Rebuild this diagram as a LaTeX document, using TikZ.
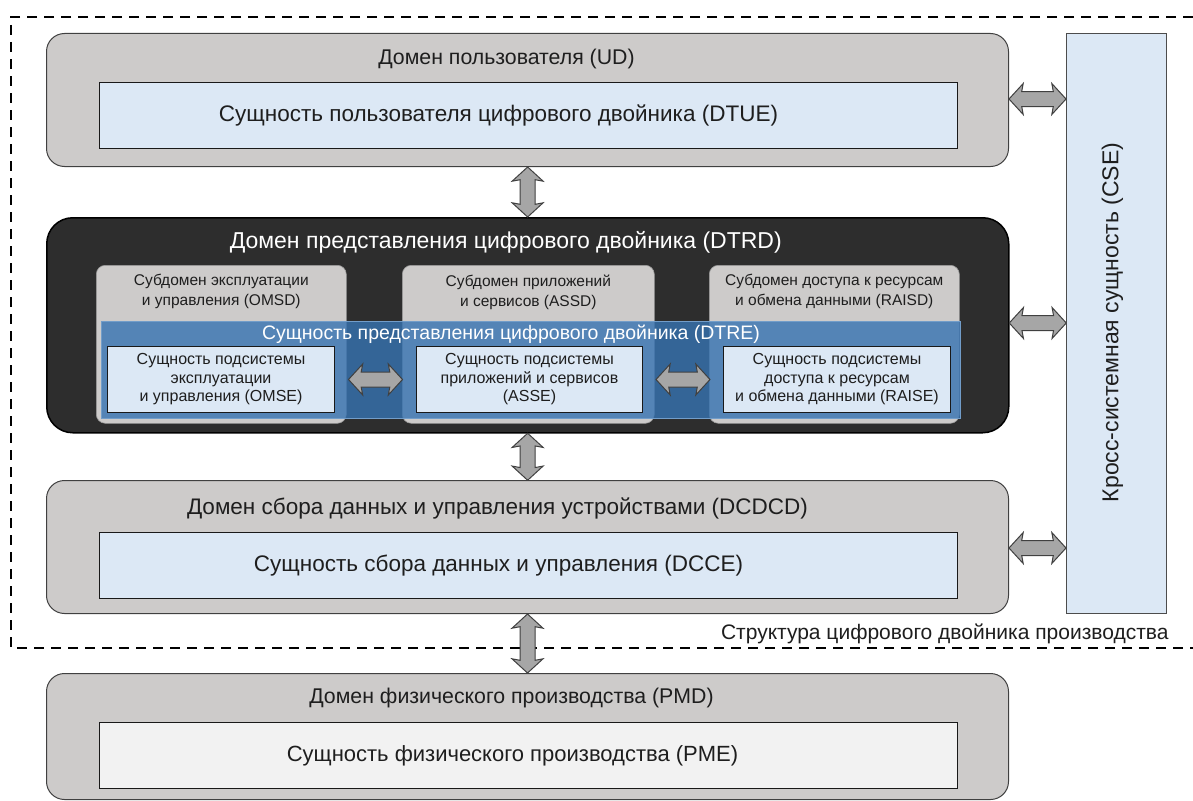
\documentclass[tikz,border=0pt]{standalone}
\usepackage{fontspec}
\setmainfont{Liberation Sans}
\usepackage{xcolor}
\usetikzlibrary{positioning}
\usetikzlibrary{shapes.arrows}

\definecolor{domgray}{HTML}{CDCBCA}
\definecolor{entblue}{HTML}{DCE8F5}
\definecolor{darkbox}{HTML}{2D2D2D}
\definecolor{dtreblue}{HTML}{3673B2}
\definecolor{arrgray}{HTML}{A6A6A6}
\definecolor{txt}{HTML}{1E1E1E}

\begin{document}
\begin{tikzpicture}[x=1pt, y=-1pt, text=txt,
    dombox/.style={draw=black!75, fill=domgray, line width=1pt, rounded corners=18pt,
      minimum width=962pt, minimum height=133pt, anchor=north west, inner sep=0pt},
    entity/.style={draw=black!90, fill=entblue, line width=1pt,
      minimum width=858pt, minimum height=66pt, anchor=north west, inner sep=0pt},
    subdom/.style={draw=black!40, fill=domgray, rounded corners=9pt, line width=0.6pt,
      minimum height=158pt, anchor=north west, inner sep=0pt},
    subent/.style={draw=black!90, fill=entblue, line width=1pt, align=center,
      minimum width=227pt, minimum height=66pt, anchor=north west, inner sep=0pt,
      font=\fontsize{16}{18.5}\selectfont},
    dtitle/.style={font=\fontsize{22.5}{26}\selectfont},
    stitle/.style={font=\fontsize{21.3}{25}\selectfont},
    subtext/.style={align=center, font=\fontsize{15.5}{20}\selectfont, anchor=north},
    dbl/.style={double arrow, draw=black!75, fill=arrgray, line width=1pt,
      inner xsep=0pt, inner ysep=7pt, double arrow head extend=8pt,
      double arrow tip angle=95, double arrow head indent=1.5pt},
    vdbl/.style={dbl, rotate=90}]
  \path[use as bounding box, fill=white] (0,0) rectangle (1193,800);

  % frame of the digital twin
  \draw[dash pattern=on 10pt off 7pt, line width=1.6pt] (1193,17) -| (11,648) -- (1193,648);
  \node[anchor=south east, font=\fontsize{21}{24}\selectfont] (frame) at (1172,647)
    {Структура цифрового двойника производства};

  % user domain
  \node[dombox] (UD) at (46,33) {};
  \node[stitle] at ([xshift=-21pt, yshift=-26pt]UD.north) {Домен пользователя (UD)};
  \node[entity] (DTUE) at (99,82) {};
  \node[dtitle] at ([xshift=-30pt]DTUE.center) {Сущность пользователя цифрового двойника (DTUE)};

  % representation domain
  \node[dombox, fill=darkbox, draw=black, line width=1.5pt, rounded corners=26pt,
    minimum height=215pt] (DTRD) at (46,217) {};
  \node[dtitle, text=white, font=\fontsize{23}{26}\selectfont] at ([xshift=-22pt, yshift=-25pt]DTRD.north)
    {Домен представления цифрового двойника (DTRD)};
  \node[subdom, minimum width=250pt] (OMSD) at (96,265) {};
  \node[subdom, minimum width=252pt] (ASSD) at (402,265) {};
  \node[subdom, minimum width=250pt] (RAISD) at (709,265) {};
  \node[subtext, below=6pt of OMSD.north] {Субдомен эксплуатации\\и управления (OMSD)};
  \node[subtext, below=6pt of ASSD.north] {Субдомен приложений\\и сервисов (ASSD)};
  \node[subtext, below=6pt of RAISD.north] {Субдомен доступа к ресурсам\\и обмена данными (RAISD)};
  \node[draw=dtreblue!70!white, fill=dtreblue, fill opacity=0.8, line width=1pt,
    minimum width=859pt, minimum height=97pt, anchor=north west, inner sep=0pt] (DTRE) at (101,321) {};
  \node[text=white, font=\fontsize{19.5}{22}\selectfont] at ([xshift=-20pt, yshift=-13pt]DTRE.north)
    {Сущность представления цифрового двойника (DTRE)};
  \node[subent] (OMSE) at (107,346) {Сущность подсистемы\\эксплуатации\\и управления (OMSE)};
  \node[subent, minimum width=226pt] (ASSE) at (416,346) {Сущность подсистемы\\приложений и сервисов\\(ASSE)};
  \node[subent] (RAISE) at (723,346) {Сущность подсистемы\\доступа к ресурсам\\и обмена данными (RAISE)};

  % data collection domain
  \node[dombox] (DCDCD) at (46,480) {};
  \node[dtitle] at ([xshift=-30pt, yshift=-28pt]DCDCD.north) {Домен сбора данных и управления устройствами (DCDCD)};
  \node[entity] (DCCE) at (99,532) {};
  \node[dtitle] at ([xshift=-30pt]DCCE.center) {Сущность сбора данных и управления (DCCE)};

  % physical domain
  \node[dombox, minimum height=126pt] (PMD) at (46,673) {};
  \node[stitle] at ([xshift=-16pt, yshift=-25pt]PMD.north) {Домен физического производства (PMD)};
  \node[entity, fill=black!5] (PME) at (99,722) {};
  \node[dtitle, font=\fontsize{22}{26}\selectfont] at ([xshift=-16pt]PME.center) {Сущность физического производства (PME)};

  % cross-system entity
  \node[draw=black!70, fill=entblue, line width=1pt, minimum width=100pt, minimum height=580pt,
    anchor=north west, inner sep=0pt] (CSE) at (1066,33) {};
  \node[dtitle, font=\fontsize{23}{26}\selectfont, rotate=90] at ([xshift=-4pt, yshift=1pt]CSE.center)
    {Кросс-системная сущность (CSE)};

  % links
  \path (UD.south) -- node[vdbl, minimum height=50pt] {} (DTRD.north);
  \path (DTRD.south) -- node[vdbl, minimum height=47pt] {} (DCDCD.north);
  \path (DCDCD.south) -- node[vdbl, minimum height=59pt] {} (PMD.north);
  \path (OMSE.east) -- node[dbl, minimum height=54pt] {} (ASSE.west);
  \path (ASSE.east) -- node[dbl, minimum height=54pt] {} (RAISE.west);
  \path (UD.east |- 0,99) -- node[dbl, minimum height=57pt] {} (CSE.west |- 0,99);
  \path (DTRD.east |- 0,323) -- node[dbl, minimum height=57pt] {} (CSE.west |- 0,323);
  \path (DCDCD.east |- 0,548) -- node[dbl, minimum height=57pt] {} (CSE.west |- 0,548);
\end{tikzpicture}
\end{document}
